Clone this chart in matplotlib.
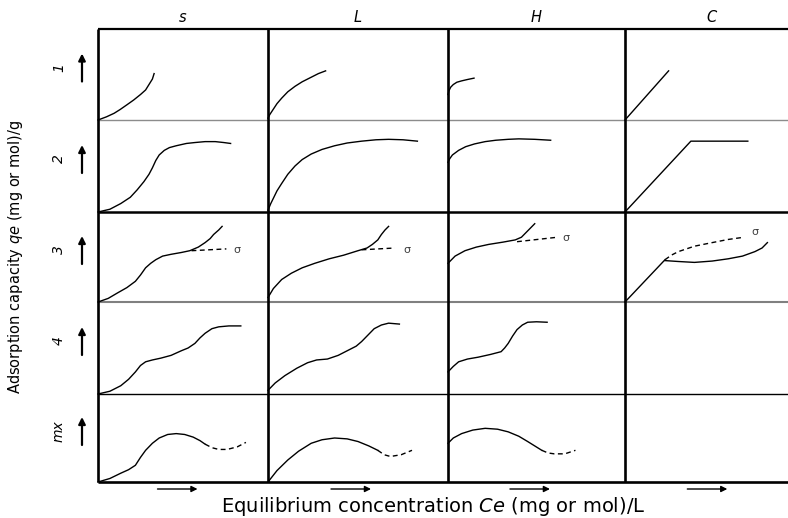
"""Giles isotherm classes (s, L, H, C x sub-groups 1-4, mx) drawn as a sketch grid."""

import matplotlib as mpl

mpl.use("Agg")
import matplotlib.pyplot as plt

W, H = 788, 518

# --- labels ---
COL_LABELS = ["s", "L", "H", "C"]
ROW_LABELS = ["1", "2", "3", "4", "mx"]
X_LABEL = "Equilibrium concentration $\\mathit{Ce}$ (mg or mol)/L"
Y_LABEL = "Adsorption capacity $\\mathit{qe}$ (mg or mol)/g"

# --- curves, in cell units (0..1 across, 0..1 up) ---
S1 = [(0, 0), (0.05, 0.035), (0.095, 0.074), (0.13, 0.115), (0.17, 0.167), (0.21, 0.22),
      (0.25, 0.28), (0.28, 0.33), (0.30, 0.39), (0.32, 0.45), (0.33, 0.51)]
L1 = [(0, 0.02), (0.01, 0.06), (0.03, 0.12), (0.05, 0.18), (0.076, 0.24), (0.11, 0.31),
      (0.15, 0.37), (0.19, 0.42), (0.24, 0.47), (0.28, 0.51), (0.32, 0.54)]
H1 = [(0, 0.28), (0.005, 0.32), (0.015, 0.36), (0.03, 0.39), (0.05, 0.415), (0.077, 0.43),
      (0.11, 0.445), (0.147, 0.46)]
C1 = [(0, 0), (0.245, 0.54)]

S2 = [(0, 0), (0.07, 0.03), (0.134, 0.092), (0.19, 0.16), (0.23, 0.24), (0.27, 0.33),
      (0.30, 0.41), (0.32, 0.48), (0.34, 0.56), (0.36, 0.62), (0.39, 0.67), (0.42, 0.70),
      (0.46, 0.72), (0.52, 0.745), (0.57, 0.755), (0.63, 0.765), (0.69, 0.765),
      (0.74, 0.755), (0.78, 0.745)]
L2 = [(0, 0.02), (0.015, 0.09), (0.03, 0.15), (0.05, 0.23), (0.076, 0.31), (0.11, 0.41),
      (0.15, 0.5), (0.19, 0.57), (0.24, 0.63), (0.30, 0.68), (0.37, 0.72), (0.44, 0.75),
      (0.52, 0.77), (0.60, 0.785), (0.67, 0.79), (0.75, 0.785), (0.83, 0.77)]
H2 = [(0, 0.54), (0.01, 0.58), (0.025, 0.62), (0.06, 0.67), (0.10, 0.71), (0.15, 0.74),
      (0.21, 0.765), (0.27, 0.78), (0.34, 0.79), (0.40, 0.795), (0.49, 0.79), (0.58, 0.78)]
C2 = [(0, 0), (0.37, 0.77), (0.69, 0.77)]

S3 = [(0, 0), (0.06, 0.04), (0.114, 0.1), (0.17, 0.16), (0.22, 0.23), (0.25, 0.3),
      (0.28, 0.38), (0.31, 0.43), (0.34, 0.47), (0.38, 0.51), (0.43, 0.53), (0.49, 0.55),
      (0.54, 0.57), (0.59, 0.61), (0.63, 0.66), (0.66, 0.705), (0.68, 0.75), (0.71, 0.80),
      (0.73, 0.84)]
S3_DASH = [(0.55, 0.57), (0.755, 0.59)]
L3 = [(0, 0.05), (0.03, 0.15), (0.076, 0.25), (0.13, 0.32), (0.19, 0.38), (0.26, 0.43),
      (0.34, 0.48), (0.42, 0.52), (0.50, 0.57), (0.55, 0.60), (0.58, 0.64), (0.61, 0.69),
      (0.63, 0.75), (0.65, 0.80), (0.67, 0.84)]
L3_DASH = [(0.52, 0.58), (0.705, 0.60)]
H3 = [(0, 0.43), (0.04, 0.51), (0.096, 0.57), (0.16, 0.61), (0.23, 0.64), (0.31, 0.665),
      (0.38, 0.69), (0.415, 0.72), (0.44, 0.77), (0.465, 0.82), (0.49, 0.87)]
H3_DASH = [(0.39, 0.67), (0.62, 0.72)]
C3 = [(0, 0), (0.225, 0.47)]
C3_SOLID = [(0.225, 0.46), (0.30, 0.45), (0.39, 0.44), (0.49, 0.455), (0.58, 0.48),
            (0.66, 0.51), (0.73, 0.56), (0.77, 0.60), (0.80, 0.66)]
C3_DASH = [(0.225, 0.47), (0.26, 0.52), (0.30, 0.56), (0.39, 0.62), (0.49, 0.66),
           (0.58, 0.695), (0.67, 0.72)]

S4 = [(0, 0), (0.07, 0.03), (0.134, 0.09), (0.18, 0.16), (0.22, 0.24), (0.25, 0.31),
      (0.28, 0.35), (0.32, 0.37), (0.37, 0.39), (0.43, 0.42), (0.49, 0.47), (0.53, 0.50),
      (0.57, 0.55), (0.60, 0.61), (0.63, 0.66), (0.67, 0.71), (0.71, 0.73), (0.77, 0.74),
      (0.84, 0.74)]
L4 = [(0, 0.04), (0.04, 0.12), (0.094, 0.2), (0.16, 0.28), (0.22, 0.34), (0.27, 0.37),
      (0.33, 0.38), (0.39, 0.42), (0.45, 0.48), (0.49, 0.52), (0.52, 0.57), (0.555, 0.64),
      (0.59, 0.71), (0.63, 0.75), (0.67, 0.77), (0.73, 0.76)]
H4 = [(0, 0.24), (0.03, 0.30), (0.06, 0.35), (0.11, 0.38), (0.17, 0.40), (0.24, 0.43),
      (0.30, 0.46), (0.32, 0.50), (0.34, 0.55), (0.365, 0.63), (0.39, 0.70), (0.42, 0.75),
      (0.45, 0.78), (0.50, 0.785), (0.56, 0.78)]

S5 = [(0, 0), (0.07, 0.04), (0.134, 0.10), (0.18, 0.14), (0.22, 0.19), (0.25, 0.28),
      (0.28, 0.36), (0.32, 0.44), (0.36, 0.50), (0.41, 0.54), (0.46, 0.55), (0.51, 0.54),
      (0.56, 0.51), (0.60, 0.47), (0.63, 0.43)]
S5_DASH = [(0.63, 0.43), (0.67, 0.39), (0.71, 0.37), (0.76, 0.37), (0.82, 0.40), (0.87, 0.45)]
L5 = [(0, 0), (0.05, 0.13), (0.11, 0.25), (0.17, 0.35), (0.24, 0.44), (0.30, 0.48),
      (0.37, 0.50), (0.44, 0.49), (0.50, 0.46), (0.56, 0.41), (0.61, 0.36)]
L5_DASH = [(0.61, 0.36), (0.645, 0.31), (0.68, 0.29), (0.74, 0.31), (0.80, 0.36)]
H5 = [(0, 0.44), (0.03, 0.50), (0.077, 0.55), (0.14, 0.59), (0.21, 0.61), (0.28, 0.60),
      (0.34, 0.57), (0.40, 0.52), (0.45, 0.46), (0.49, 0.41), (0.53, 0.36)]
H5_DASH = [(0.53, 0.36), (0.565, 0.33), (0.60, 0.32), (0.66, 0.32), (0.72, 0.36)]

# sigma markers at the end of the dashed branches, row 3
SIGMA_S3 = (0.815, 0.58)
SIGMA_L3 = (0.77, 0.58)
SIGMA_H3 = (0.665, 0.71)
SIGMA_C3 = (0.73, 0.78)

# (row, col) -> list of (points, dashed?)
CELLS = {
    (0, 0): [(S1, False)], (0, 1): [(L1, False)], (0, 2): [(H1, False)], (0, 3): [(C1, False)],
    (1, 0): [(S2, False)], (1, 1): [(L2, False)], (1, 2): [(H2, False)], (1, 3): [(C2, False)],
    (2, 0): [(S3, False), (S3_DASH, True)],
    (2, 1): [(L3, False), (L3_DASH, True)],
    (2, 2): [(H3, False), (H3_DASH, True)],
    (2, 3): [(C3, False), (C3_SOLID, False), (C3_DASH, True)],
    (3, 0): [(S4, False)], (3, 1): [(L4, False)], (3, 2): [(H4, False)],
    (4, 0): [(S5, False), (S5_DASH, True)],
    (4, 1): [(L5, False), (L5_DASH, True)],
    (4, 2): [(H5, False), (H5_DASH, True)],
}
SIGMAS = {(2, 0): SIGMA_S3, (2, 1): SIGMA_L3, (2, 2): SIGMA_H3, (2, 3): SIGMA_C3}

# --- layout (pixels) ---
X_EDGES = [98, 268, 448, 625, 803]
Y_EDGES = [29, 120, 212, 302, 394, 482]
# horizontal rules: (linewidth pt, colour)
H_RULES = [(1.6, "black"), (1.0, "0.55"), (1.8, "black"), (1.5, "0.5"), (1.0, "black"), (1.9, "black")]

fig = plt.figure(figsize=(W / 100, H / 100), dpi=100)
fig.patch.set_facecolor("white")

bg = fig.add_axes([0, 0, 1, 1])
bg.set_xlim(0, W)
bg.set_ylim(H, 0)
bg.axis("off")

for y, (lw, col) in zip(Y_EDGES, H_RULES):
    bg.plot([X_EDGES[0], W], [y, y], color=col, lw=lw, solid_capstyle="butt")
for x in X_EDGES[:4]:
    bg.plot([x, x], [Y_EDGES[0], Y_EDGES[-1]], color="black", lw=1.9, solid_capstyle="butt")

# column headers + bottom arrows
for c, lab in enumerate(COL_LABELS):
    xc = (X_EDGES[c] + X_EDGES[c + 1]) / 2
    if c == 3:
        xc = 712
    bg.text(xc, 17, lab, ha="center", va="center", fontsize=10.5, style="italic",
            family="DejaVu Sans")
    xa = X_EDGES[c] + 0.35 * (X_EDGES[c + 1] - X_EDGES[c])
    bg.annotate("", xy=(xa + 40, 489), xytext=(xa, 489),
                arrowprops=dict(arrowstyle="-|>", lw=1.0, color="black",
                                mutation_scale=9, shrinkA=0, shrinkB=0))

# row labels + up arrows
for r, lab in enumerate(ROW_LABELS):
    yc = (Y_EDGES[r] + Y_EDGES[r + 1]) / 2 - 7
    bg.text(59, yc, lab, ha="center", va="center", rotation=90, fontsize=10,
            style="italic", family="DejaVu Sans")
    bg.annotate("", xy=(82, yc - 14), xytext=(82, yc + 14),
                arrowprops=dict(arrowstyle="-|>", lw=1.6, color="black",
                                mutation_scale=10, shrinkA=0, shrinkB=0))

bg.text(16, 257, Y_LABEL, ha="center", va="center", rotation=90, fontsize=10.5,
        family="DejaVu Sans")
bg.text(433, 507, X_LABEL, ha="center", va="center", fontsize=14, family="DejaVu Sans")

# curves, one small axes per cell
for (r, c), curves in CELLS.items():
    x0, x1 = X_EDGES[c], X_EDGES[c + 1]
    y0, y1 = Y_EDGES[r], Y_EDGES[r + 1]
    ax = fig.add_axes([x0 / W, 1 - y1 / H, (x1 - x0) / W, (y1 - y0) / H])
    ax.set_xlim(0, 1)
    ax.set_ylim(0, 1)
    ax.axis("off")
    ax.patch.set_alpha(0)
    for pts, dashed in curves:
        u = [p[0] for p in pts]
        v = [p[1] for p in pts]
        ax.plot(u, v, color="black", lw=1.0, clip_on=False, solid_joinstyle="round",
                linestyle=(0, (3.5, 2.5)) if dashed else "-")
    if (r, c) in SIGMAS:
        su, sv = SIGMAS[(r, c)]
        ax.text(su, sv, "σ", ha="center", va="center", fontsize=8, color="0.25")

fig.savefig("out.png", dpi=100)
